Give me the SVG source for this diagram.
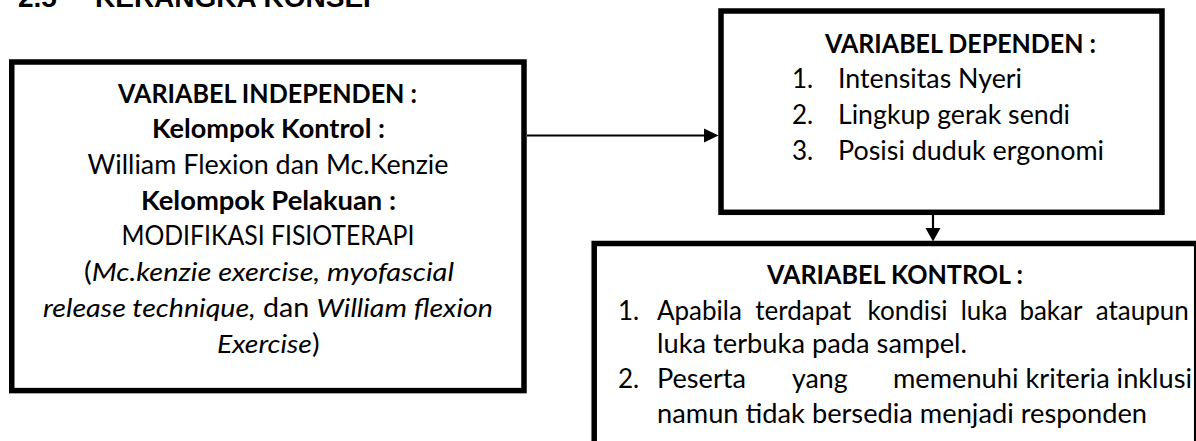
<svg xmlns="http://www.w3.org/2000/svg" width="1196" height="441" viewBox="0 0 1196 441">
<style>
  .box { fill: #fff; stroke: #000; stroke-width: 5.5; }
  .t { font-family: Lato, "Open Sans", sans-serif; font-size: 26px; fill: #000; }
  .b { font-weight: bold; }
  .i { font-style: italic; }
  .h { font-family: "Liberation Sans", Arial, sans-serif; font-size: 28px; font-weight: bold; fill: #000; }
  .conn { stroke: #000; stroke-width: 2.2; fill: none; }
  .head { fill: #000; stroke: none; }
</style>
<rect width="1196" height="441" fill="#fff"/>
<g id="heading">
  <text class="h" x="18" y="7">2.5</text>
  <text class="h" x="95" y="7">KERANGKA KONSEP</text>
</g>
<g id="connectors">
  <line class="conn" x1="527" y1="135.5" x2="706" y2="135.5"/>
  <polygon class="head" points="704,128.5 718.5,135.5 704,142.5"/>
  <line class="conn" x1="933" y1="215" x2="933" y2="230"/>
  <polygon class="head" points="925.5,228 933,241.5 940.5,228"/>
</g>
<g id="independen">
  <rect class="box" x="11.75" y="62" width="512.25" height="328.6"/>
  <text class="t b" x="118" y="102.7" textLength="299" lengthAdjust="spacingAndGlyphs">VARIABEL INDEPENDEN :</text>
  <text class="t b" x="152" y="138.3" textLength="233" lengthAdjust="spacingAndGlyphs">Kelompok Kontrol :</text>
  <text class="t" x="87.5" y="174" textLength="361" lengthAdjust="spacingAndGlyphs">William Flexion dan Mc.Kenzie</text>
  <text class="t b" x="141" y="210" textLength="255" lengthAdjust="spacingAndGlyphs">Kelompok Pelakuan :</text>
  <text class="t" x="121.4" y="245" textLength="293" lengthAdjust="spacingAndGlyphs">MODIFIKASI FISIOTERAPI</text>
  <text class="t" x="84" y="280.7" textLength="370" lengthAdjust="spacingAndGlyphs">(<tspan class="i">Mc.kenzie exercise, myofascial</tspan></text>
  <text class="t" x="43" y="316.7" textLength="450" lengthAdjust="spacingAndGlyphs"><tspan class="i">release technique,</tspan> dan <tspan class="i">William flexion</tspan></text>
  <text class="t" x="217" y="353.3" textLength="102.5" lengthAdjust="spacingAndGlyphs"><tspan class="i">Exercise</tspan>)</text>
</g>
<g id="dependen">
  <rect class="box" x="721" y="11" width="441" height="201.3"/>
  <text class="t b" x="825" y="52.5" textLength="271" lengthAdjust="spacingAndGlyphs">VARIABEL DEPENDEN :</text>
  <text class="t" x="792" y="87.5">1.</text>
  <text class="t" x="838" y="87.5" textLength="184" lengthAdjust="spacingAndGlyphs">Intensitas Nyeri</text>
  <text class="t" x="792" y="124">2.</text>
  <text class="t" x="838" y="124" textLength="232" lengthAdjust="spacingAndGlyphs">Lingkup gerak sendi</text>
  <text class="t" x="792" y="160">3.</text>
  <text class="t" x="838" y="160" textLength="266" lengthAdjust="spacingAndGlyphs">Posisi duduk ergonomi</text>
</g>
<g id="kontrol">
  <rect class="box" x="594.2" y="243.5" width="602.5" height="300"/>
  <text class="t b" x="767" y="284" textLength="256" lengthAdjust="spacingAndGlyphs">VARIABEL KONTROL :</text>
  <text class="t" x="618" y="320">1.</text>
  <text class="t" y="320"><tspan x="657">Apabila</tspan> <tspan x="755.3">terdapat</tspan> <tspan x="867.5">kondisi</tspan> <tspan x="960.7">luka</tspan> <tspan x="1019.4">bakar</tspan> <tspan x="1095.7">ataupun</tspan></text>
  <text class="t" x="657" y="353" textLength="310" lengthAdjust="spacingAndGlyphs">luka terbuka pada sampel.</text>
  <text class="t" x="618" y="388">2.</text>
  <text class="t" x="657" y="388" textLength="89" lengthAdjust="spacingAndGlyphs">Peserta</text>
  <text class="t" x="792" y="388" textLength="55.6" lengthAdjust="spacingAndGlyphs">yang</text>
  <text class="t" x="893" y="388" textLength="299" lengthAdjust="spacingAndGlyphs">memenuhi kriteria inklusi</text>
  <text class="t" x="657" y="423" textLength="490" lengthAdjust="spacingAndGlyphs">namun tidak bersedia menjadi responden</text>
</g>
</svg>
